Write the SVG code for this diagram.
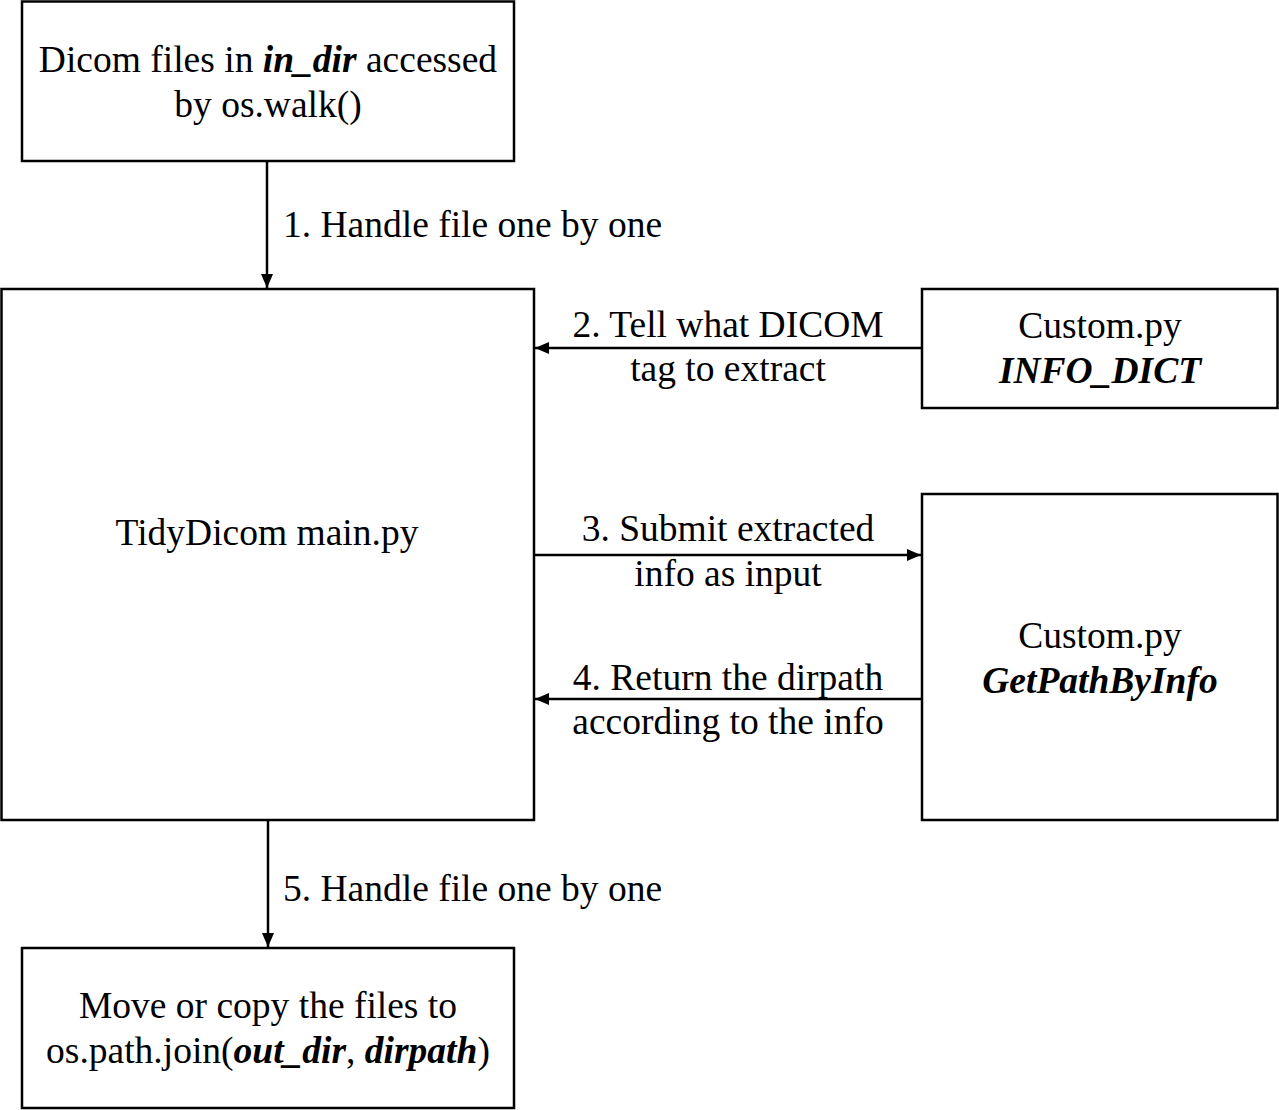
<svg xmlns="http://www.w3.org/2000/svg" width="1279" height="1110" viewBox="0 0 1279 1110">
<defs>
<style>
.box{fill:#fff;stroke:#000;stroke-width:2.5}
text{font-family:"Liberation Serif","Times New Roman",serif;font-size:37.5px;fill:#000}
.c{text-anchor:middle}
.bi{font-weight:bold;font-style:italic}
.ln{stroke:#000;stroke-width:2.5;fill:none}
</style>
<marker id="ah" viewBox="0 0 14 12" refX="14" refY="6" markerWidth="14" markerHeight="12" markerUnits="userSpaceOnUse" orient="auto">
<path d="M0,0 L14,6 L0,12 Z" fill="#000"/>
</marker>
</defs>
<rect width="1279" height="1110" fill="#fff"/>
<g id="n_input">
<rect class="box" x="22" y="1.5" width="492" height="159.5"/>
<text class="c" x="268" y="72">Dicom files in <tspan class="bi">in_dir</tspan> accessed</text>
<text class="c" x="268" y="117">by os.walk()</text>
</g>
<g id="n_main">
<rect class="box" x="1.5" y="289" width="532.5" height="531"/>
<text class="c" x="267" y="545">TidyDicom main.py</text>
</g>
<g id="n_info">
<rect class="box" x="922" y="289" width="355.5" height="119"/>
<text class="c" x="1100" y="338">Custom.py</text>
<text class="c bi" x="1100" y="383">INFO_DICT</text>
</g>
<g id="n_path">
<rect class="box" x="922" y="494" width="355.5" height="326"/>
<text class="c" x="1100" y="648">Custom.py</text>
<text class="c bi" x="1100" y="693">GetPathByInfo</text>
</g>
<g id="n_out">
<rect class="box" x="22" y="948" width="492" height="160"/>
<text class="c" x="268" y="1018">Move or copy the files to</text>
<text class="c" x="268" y="1063">os.path.join(<tspan class="bi">out_dir</tspan>, <tspan class="bi">dirpath</tspan>)</text>
</g>
<g id="edges">
<line class="ln" x1="267" y1="161" x2="267" y2="288" marker-end="url(#ah)"/>
<line class="ln" x1="922" y1="348" x2="535" y2="348" marker-end="url(#ah)"/>
<line class="ln" x1="534" y1="555" x2="921" y2="555" marker-end="url(#ah)"/>
<line class="ln" x1="922" y1="699" x2="535" y2="699" marker-end="url(#ah)"/>
<line class="ln" x1="268" y1="820" x2="268" y2="947" marker-end="url(#ah)"/>
<text x="283" y="237">1. Handle file one by one</text>
<text class="c" x="728" y="337">2. Tell what DICOM</text>
<text class="c" x="728" y="381">tag to extract</text>
<text class="c" x="728" y="541">3. Submit extracted</text>
<text class="c" x="728" y="586">info as input</text>
<text class="c" x="728" y="690">4. Return the dirpath</text>
<text class="c" x="728" y="734">according to the info</text>
<text x="283" y="901">5. Handle file one by one</text>
</g>
</svg>
